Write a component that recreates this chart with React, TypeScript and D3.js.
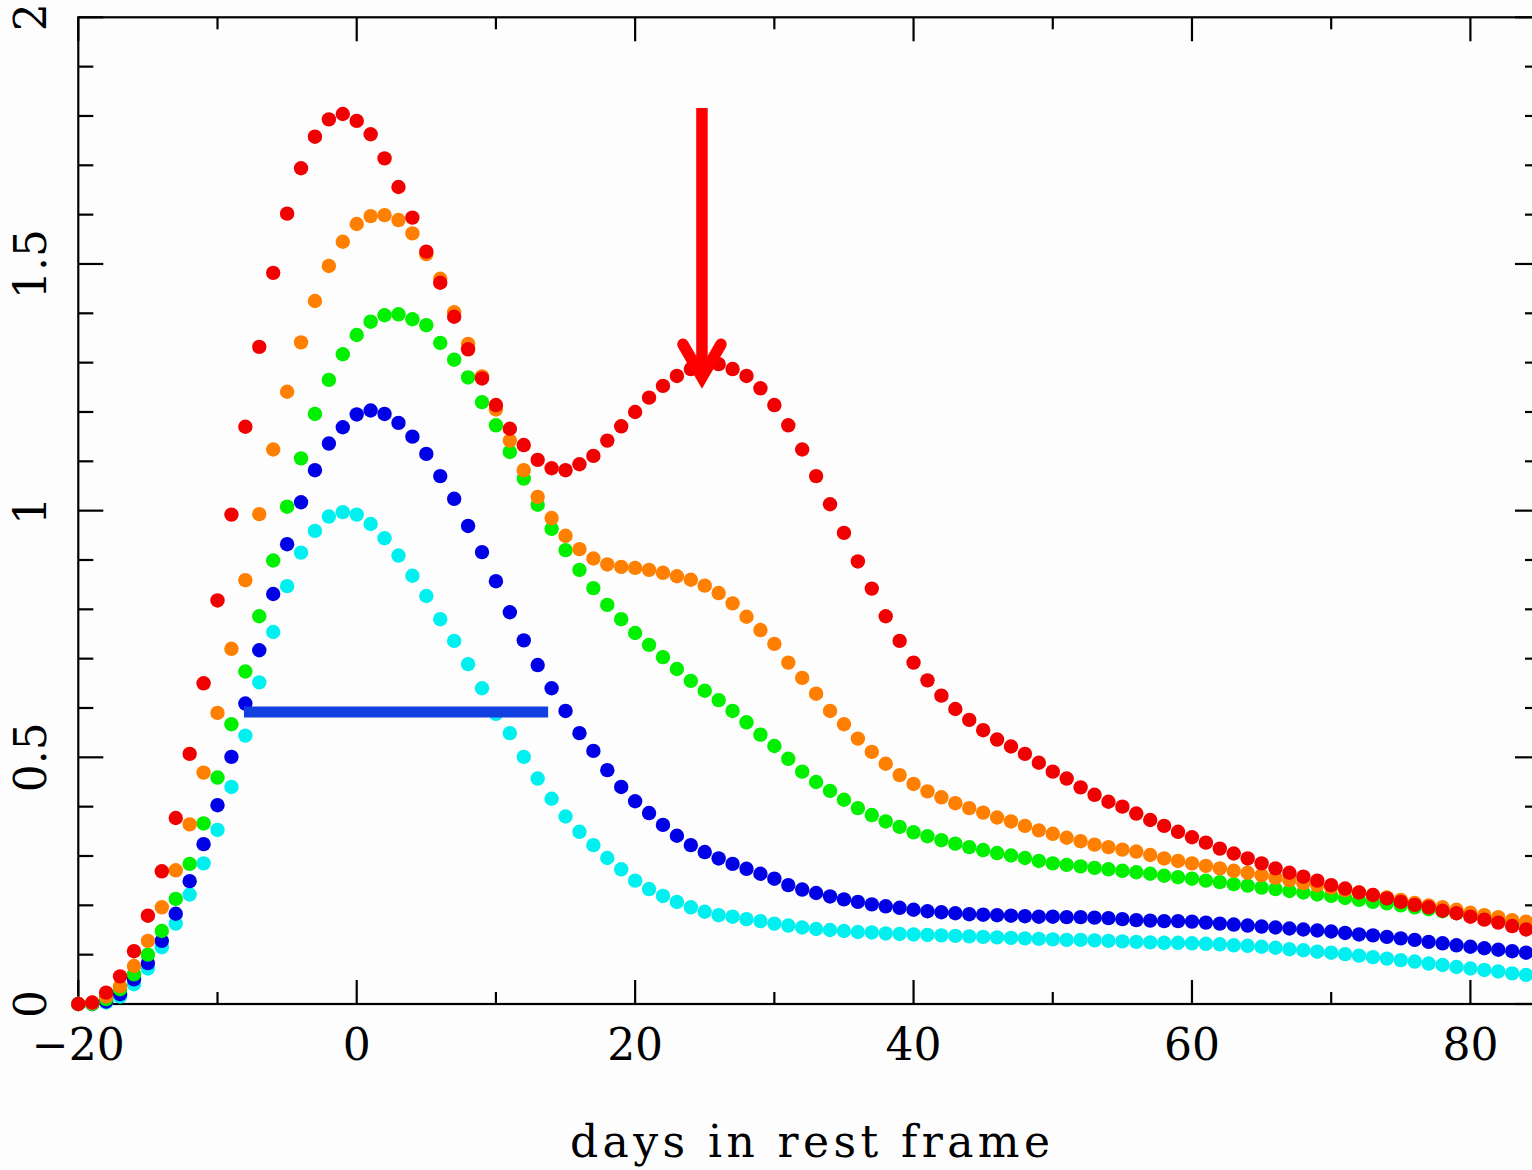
import React from "react";
import * as d3 from "d3";

// Rest-frame days sampled once per day
const days: number[] = d3.range(-20, 85);

// Light curves (flux relative to the cyan peak), one value per day from -20 to 84
const redFlux = [
  0.000, 0.003, 0.023, 0.056, 0.107, 0.179, 0.269, 0.377, 0.507, 0.650,
  0.818, 0.992, 1.170, 1.332, 1.482, 1.602, 1.694, 1.758, 1.793, 1.804,
  1.790, 1.763, 1.714, 1.656, 1.594, 1.525, 1.462, 1.393, 1.327, 1.268,
  1.214, 1.166, 1.133, 1.103, 1.086, 1.082, 1.094, 1.111, 1.142, 1.171,
  1.200, 1.229, 1.253, 1.273, 1.287, 1.294, 1.297, 1.287, 1.273, 1.248,
  1.214, 1.173, 1.124, 1.070, 1.013, 0.955, 0.897, 0.842, 0.786, 0.736,
  0.692, 0.656, 0.625, 0.598, 0.576, 0.555, 0.536, 0.522, 0.507, 0.489,
  0.471, 0.457, 0.439, 0.424, 0.410, 0.400, 0.386, 0.373, 0.361, 0.349,
  0.338, 0.327, 0.315, 0.305, 0.295, 0.285, 0.275, 0.266, 0.258, 0.250,
  0.241, 0.234, 0.226, 0.221, 0.214, 0.207, 0.201, 0.196, 0.189, 0.184,
  0.177, 0.171, 0.165, 0.158, 0.151,
];

const orangeFlux = [
  0.000, 0.002, 0.015, 0.036, 0.077, 0.128, 0.196, 0.271, 0.364, 0.469,
  0.590, 0.720, 0.859, 0.993, 1.124, 1.241, 1.341, 1.425, 1.496, 1.545,
  1.581, 1.597, 1.599, 1.589, 1.562, 1.520, 1.470, 1.402, 1.338, 1.272,
  1.205, 1.142, 1.082, 1.028, 0.985, 0.949, 0.922, 0.903, 0.891, 0.886,
  0.884, 0.880, 0.874, 0.867, 0.860, 0.848, 0.833, 0.812, 0.785, 0.758,
  0.730, 0.692, 0.661, 0.629, 0.594, 0.567, 0.538, 0.511, 0.487, 0.464,
  0.446, 0.431, 0.419, 0.407, 0.397, 0.388, 0.378, 0.370, 0.361, 0.352,
  0.345, 0.337, 0.330, 0.323, 0.318, 0.313, 0.309, 0.302, 0.295, 0.290,
  0.285, 0.280, 0.275, 0.270, 0.266, 0.261, 0.256, 0.251, 0.245, 0.241,
  0.236, 0.231, 0.226, 0.221, 0.216, 0.211, 0.205, 0.200, 0.196, 0.191,
  0.185, 0.180, 0.176, 0.170, 0.167,
];

const greenFlux = [
  0.000, 0.000, 0.010, 0.030, 0.060, 0.100, 0.148, 0.213, 0.284, 0.366,
  0.459, 0.567, 0.674, 0.786, 0.899, 1.008, 1.106, 1.196, 1.265, 1.317,
  1.356, 1.383, 1.396, 1.398, 1.388, 1.376, 1.340, 1.306, 1.270, 1.220,
  1.173, 1.119, 1.065, 1.012, 0.963, 0.920, 0.880, 0.843, 0.809, 0.780,
  0.752, 0.728, 0.703, 0.679, 0.655, 0.635, 0.616, 0.594, 0.571, 0.546,
  0.523, 0.497, 0.471, 0.450, 0.432, 0.414, 0.397, 0.383, 0.370, 0.359,
  0.348, 0.340, 0.332, 0.325, 0.318, 0.312, 0.306, 0.301, 0.296, 0.290,
  0.285, 0.282, 0.279, 0.276, 0.273, 0.270, 0.267, 0.264, 0.260, 0.257,
  0.254, 0.250, 0.247, 0.243, 0.240, 0.236, 0.233, 0.229, 0.226, 0.222,
  0.219, 0.215, 0.211, 0.207, 0.204, 0.200, 0.196, 0.192, 0.188, 0.184,
  0.180, 0.176, 0.172, 0.168, 0.164,
];

const blueFlux = [
  0.000, 0.000, 0.005, 0.020, 0.050, 0.083, 0.128, 0.183, 0.249, 0.324,
  0.403, 0.501, 0.609, 0.717, 0.831, 0.932, 1.017, 1.082, 1.136, 1.169,
  1.195, 1.203, 1.196, 1.178, 1.150, 1.115, 1.070, 1.024, 0.969, 0.916,
  0.857, 0.794, 0.737, 0.687, 0.640, 0.594, 0.549, 0.513, 0.474, 0.440,
  0.411, 0.387, 0.363, 0.341, 0.322, 0.308, 0.295, 0.284, 0.274, 0.264,
  0.254, 0.241, 0.232, 0.225, 0.218, 0.212, 0.207, 0.202, 0.198, 0.195,
  0.191, 0.188, 0.186, 0.184, 0.182, 0.181, 0.180, 0.179, 0.178, 0.177,
  0.177, 0.176, 0.176, 0.175, 0.174, 0.172, 0.170, 0.169, 0.168, 0.168,
  0.167, 0.165, 0.163, 0.161, 0.159, 0.157, 0.155, 0.153, 0.151, 0.149,
  0.147, 0.144, 0.141, 0.139, 0.136, 0.133, 0.130, 0.126, 0.123, 0.119,
  0.116, 0.113, 0.110, 0.107, 0.104,
];

const cyanFlux = [
  0.000, 0.000, 0.003, 0.015, 0.040, 0.072, 0.115, 0.163, 0.222, 0.285,
  0.353, 0.440, 0.544, 0.652, 0.754, 0.847, 0.915, 0.959, 0.988, 0.997,
  0.992, 0.973, 0.944, 0.909, 0.868, 0.827, 0.780, 0.736, 0.689, 0.640,
  0.588, 0.549, 0.501, 0.457, 0.416, 0.380, 0.349, 0.322, 0.296, 0.273,
  0.250, 0.233, 0.219, 0.207, 0.196, 0.187, 0.180, 0.177, 0.172, 0.168,
  0.163, 0.159, 0.155, 0.152, 0.150, 0.148, 0.146, 0.145, 0.143, 0.142,
  0.141, 0.140, 0.139, 0.138, 0.137, 0.136, 0.135, 0.134, 0.133, 0.132,
  0.131, 0.130, 0.130, 0.129, 0.128, 0.127, 0.126, 0.125, 0.124, 0.124,
  0.123, 0.122, 0.121, 0.119, 0.118, 0.116, 0.114, 0.111, 0.109, 0.106,
  0.104, 0.101, 0.098, 0.095, 0.092, 0.089, 0.086, 0.082, 0.079, 0.075,
  0.072, 0.069, 0.066, 0.062, 0.059,
];

// Drawn back to front: red ends up on top
const seriesOrder = [
  { name: "cyan", color: "#00f0f0", values: cyanFlux },
  { name: "blue", color: "#0000e6", values: blueFlux },
  { name: "green", color: "#00f000", values: greenFlux },
  { name: "orange", color: "#ff8000", values: orangeFlux },
  { name: "red", color: "#f00000", values: redFlux },
];

// Axis ticks
const xMajorTicks = [-20, 0, 20, 40, 60, 80];
const xMinorTicks = [-10, 10, 30, 50, 70];
const xTickLabels = ["\u221220", "0", "20", "40", "60", "80"];
const yMajorTicks = [0, 0.5, 1, 1.5, 2];
const yMinorTicks = [0.1, 0.2, 0.3, 0.4, 0.6, 0.7, 0.8, 0.9, 1.1, 1.2, 1.3, 1.4, 1.6, 1.7, 1.8, 1.9];
const yTickLabels = ["0", "0.5", "1", "1.5", "2"];

// Annotations: width bar at 0.592 from day -8.1 to 13.75, arrow at day 24.8 pointing at the second peak
const widthBar = { from: -8.1, to: 13.75, level: 0.592 };
const arrowMark = { day: 24.8, top: 1.816, tip: 1.25 };

const W = 1532;
const H = 1170;
const FONT = "'DejaVu Serif', 'Liberation Serif', serif";

export default function App() {
  const x = d3.scaleLinear().domain([-20, 85]).range([78.3, 1540]);
  const y = d3.scaleLinear().domain([0, 2]).range([1004, 17.3]);

  const left = x(-20);
  const right = x(85);
  const top = y(2);
  const bottom = y(0);

  const majorX = 24;
  const minorX = 12;
  const majorY = 25;
  const minorY = 15;

  const ax = x(arrowMark.day);
  const tipY = y(arrowMark.tip);
  const vertexY = tipY - 10;

  return (
    <svg
      width={W}
      height={H}
      viewBox={`0 0 ${W} ${H}`}
      style={{ position: "absolute", left: 0, top: 0, display: "block" }}
    >
      <rect x={0} y={0} width={W} height={H} fill="#fdfdfd" />

      {/* frame */}
      <g stroke="#000" strokeWidth={2.2} fill="none">
        <rect x={left} y={top} width={right - left} height={bottom - top} />
        {xMajorTicks.map((t) => (
          <g key={`xM${t}`}>
            <line x1={x(t)} x2={x(t)} y1={bottom} y2={bottom - majorX} />
            <line x1={x(t)} x2={x(t)} y1={top} y2={top + majorX} />
          </g>
        ))}
        {xMinorTicks.map((t) => (
          <g key={`xm${t}`}>
            <line x1={x(t)} x2={x(t)} y1={bottom} y2={bottom - minorX} />
            <line x1={x(t)} x2={x(t)} y1={top} y2={top + minorX} />
          </g>
        ))}
        {yMajorTicks.map((t) => (
          <g key={`yM${t}`}>
            <line x1={left} x2={left + majorY} y1={y(t)} y2={y(t)} />
            <line x1={right} x2={right - majorY} y1={y(t)} y2={y(t)} />
          </g>
        ))}
        {yMinorTicks.map((t) => (
          <g key={`ym${t}`}>
            <line x1={left} x2={left + minorY} y1={y(t)} y2={y(t)} />
            <line x1={right} x2={right - minorY} y1={y(t)} y2={y(t)} />
          </g>
        ))}
      </g>

      {/* tick labels */}
      <g fontFamily={FONT} fontSize={44} fill="#000">
        {xMajorTicks.map((t, i) => (
          <text key={`xl${t}`} x={x(t)} y={1060} textAnchor="middle">
            {xTickLabels[i]}
          </text>
        ))}
        {yMajorTicks.map((t, i) => (
          <text
            key={`yl${t}`}
            transform={`translate(46,${y(t)}) rotate(-90)`}
            textAnchor="middle"
          >
            {yTickLabels[i]}
          </text>
        ))}
        <text x={570} y={1157} textLength={480} lengthAdjust="spacing">
          days in rest frame
        </text>
      </g>

      {/* light curves */}
      {seriesOrder.map((s) => (
        <g key={s.name} fill={s.color}>
          {s.values.map((v, i) => (
            <circle key={i} cx={x(days[i])} cy={y(v)} r={7.2} />
          ))}
        </g>
      ))}

      {/* width bar */}
      <line
        x1={x(widthBar.from)}
        x2={x(widthBar.to)}
        y1={y(widthBar.level)}
        y2={y(widthBar.level)}
        stroke="#1240e0"
        strokeWidth={11}
      />

      {/* arrow */}
      <g stroke="#ff0000" fill="none" strokeWidth={11.5}>
        <line x1={ax} x2={ax} y1={y(arrowMark.top)} y2={vertexY} />
        <polyline
          points={`${ax - 19},${vertexY - 33} ${ax},${vertexY} ${ax + 19},${vertexY - 33}`}
          strokeLinejoin="miter"
          strokeMiterlimit={10}
          strokeLinecap="round"
        />
      </g>
    </svg>
  );
}
